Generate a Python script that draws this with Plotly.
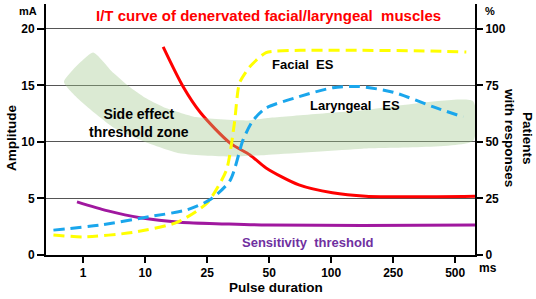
import plotly.graph_objects as go

# ---- data (x in category-index space: 0 -> "1 ms", 6 -> "500 ms") ----
tick_pos = [0, 1, 2, 3, 4, 5, 6]
tick_labels = ["1", "10", "25", "50", "100", "250", "500"]
amp_ticks = [0, 5, 10, 15, 20]
pct_ticks = [0, 25, 50, 75, 100]

red_x = [1.29, 1.61, 1.89, 2.37, 2.69, 2.95, 3.48, 4.02, 4.56, 5.3, 6.32]
red_y = [18.4, 14.9, 12.6, 9.9, 8.85, 7.7, 6.2, 5.5, 5.2, 5.15, 5.2]

purple_x = [-0.1, 0.4, 0.92, 1.56, 2.3, 2.97, 4.5, 6.32]
purple_y = [4.7, 3.9, 3.3, 2.9, 2.75, 2.65, 2.62, 2.65]

yellow_x = [-0.48, 0, 0.81, 1.52, 2.0, 2.31, 2.44, 2.52, 2.68, 2.95, 3.5, 4.5, 5.5, 6.18]
yellow_y = [1.77, 1.6, 2.0, 2.9, 4.6, 7.5, 11.7, 15.2, 16.6, 17.9, 18.1, 18.1, 18.05, 17.95]

blue_x = [-0.48, 0.27, 1.08, 1.68, 2.05, 2.37, 2.58, 2.74, 2.95, 3.48, 4.03, 4.45, 5.0, 5.65, 6.13]
blue_y = [2.2, 2.65, 3.4, 4.0, 4.9, 6.6, 10.2, 11.9, 13.0, 14.0, 14.8, 14.9, 14.4, 13.1, 12.2]

band_upper_x = [0.16, 0.45, 0.74, 1.0, 1.29, 1.82, 2.63, 2.95, 4.5, 6.29]
band_upper_y = [17.9, 16.3, 14.9, 13.9, 13.1, 12.2, 11.9, 12.1, 12.8, 13.6]
band_lower_x = [6.29, 4.5, 2.95, 2.35, 1.55, 1.0, 0.48, -0.06, -0.31]
band_lower_y = [10.1, 9.4, 8.85, 8.7, 9.0, 10.0, 11.3, 13.7, 15.3]

FONT = "Arial, Liberation Sans, sans-serif"

fig = go.Figure()

fig.add_trace(go.Scatter(x=red_x, y=red_y, mode="lines",
                         line=dict(color="#ff0000", width=3, shape="spline", smoothing=0.8),
                         hoverinfo="skip"))

fig.add_trace(go.Scatter(x=band_upper_x + band_lower_x + [band_upper_x[0]],
                         y=band_upper_y + band_lower_y + [band_upper_y[0]],
                         mode="lines", fill="toself",
                         fillcolor="rgba(160,200,140,0.38)",
                         line=dict(width=0, color="rgba(0,0,0,0)", shape="spline", smoothing=0.5),
                         hoverinfo="skip"))

fig.add_trace(go.Scatter(x=purple_x, y=purple_y, mode="lines",
                         line=dict(color="#a0189f", width=3, shape="spline", smoothing=0.8),
                         hoverinfo="skip"))

fig.add_trace(go.Scatter(x=yellow_x, y=yellow_y, mode="lines",
                         line=dict(color="#ffff00", width=3, dash="11px,6px", shape="spline", smoothing=0.6),
                         hoverinfo="skip"))

fig.add_trace(go.Scatter(x=blue_x, y=blue_y, mode="lines",
                         line=dict(color="#1aa6ec", width=3, dash="11px,6px", shape="spline", smoothing=0.7),
                         hoverinfo="skip"))

# dummy trace on secondary axis to activate it
fig.add_trace(go.Scatter(x=[None], y=[None], yaxis="y2", hoverinfo="skip"))

L, R, T, B = 46, 61, 4, 44
W, H = 536, 299

fig.update_layout(
    width=W, height=H,
    margin=dict(l=L, r=R, t=T, b=B, autoexpand=False),
    plot_bgcolor="white", paper_bgcolor="white",
    showlegend=False,
    font=dict(family=FONT, size=12, color="black"),
    xaxis=dict(range=[-0.6, 6.32], tickvals=tick_pos, ticktext=tick_labels,
               showline=True, linecolor="black", linewidth=2,
               ticks="outside", ticklen=6, tickwidth=1.5, tickcolor="black",
               showgrid=False, zeroline=False,
               tickfont=dict(family=FONT, size=12, color="black", weight="bold")),
    yaxis=dict(range=[0, 22.2], tickvals=amp_ticks,
               showline=True, linecolor="black", linewidth=2,
               ticks="outside", ticklen=7, tickwidth=1.5, tickcolor="black",
               showgrid=True, gridcolor="#555555", gridwidth=1.3, zeroline=False,
               tickfont=dict(family=FONT, size=12, color="black", weight="bold")),
    yaxis2=dict(range=[0, 111], tickvals=pct_ticks, overlaying="y", side="right",
                anchor="x",
                showline=True, linecolor="black", linewidth=2,
                ticks="outside", ticklen=6, tickwidth=1.5, tickcolor="black",
                showgrid=False, zeroline=False,
                tickfont=dict(family=FONT, size=12, color="black", weight="bold")),
)

def px(xp, yp):
    """pixel position on the image -> paper coordinates of the plot area"""
    return (xp - L) / (W - L - R), (H - B - yp) / (H - T - B)

def ann(text, xp, yp, size=12, color="black", angle=0):
    x, y = px(xp, yp)
    fig.add_annotation(text=text, x=x, y=y, xref="paper", yref="paper", showarrow=False,
                       textangle=angle, xanchor="center", yanchor="middle",
                       font=dict(family=FONT, size=size, color=color, weight="bold"))

NB = "&nbsp;"
ann("I/T curve of denervated facial/laryngeal" + NB + " muscles", 268, 16, size=15, color="#ff0000")
ann("Facial" + NB + " ES", 303, 64, size=13)
ann("Laryngeal" + NB + NB + " ES", 355, 105, size=13)
ann("Side effect<br>threshold zone", 139, 123, size=14)
ann("Sensitivity" + NB + " threshold", 308, 242, size=13, color="#7030a0")
ann("Pulse duration", 276, 287, size=13.5)
ann("Amplitude", 11, 138, size=13.5, angle=-90)
ann("Patients<br>with responses", 519, 137, size=13.5, angle=90)
ann("mA", 28, 11, size=11)
ann("%", 490, 11, size=11)
ann("ms", 488, 268, size=12)

fig.write_html("out.html", config={"displayModeBar": False},
               post_script="document.body.style.margin='0';document.body.style.padding='0';")
